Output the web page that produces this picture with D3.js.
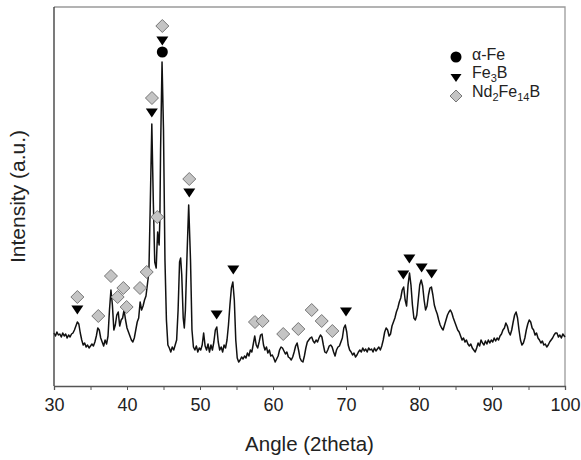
<!DOCTYPE html>
<html>
<head>
<meta charset="utf-8">
<script src="https://cdn.jsdelivr.net/npm/d3@7"></script>
<style>
  body { margin: 0; background: #fff; }
  svg { display: block; font-family: "Liberation Sans", Arial, sans-serif; }
</style>
</head>
<body>
<div id="vis"></div>
<script>
const FRAME_WIDTH = 581;
const FRAME_HEIGHT = 460;
const MARGINS = {left: 54, right: 16, top: 7, bottom: 74};

// diffraction pattern, angle (2theta) and intensity (a.u.)
const angles = [30.0,30.2,30.4,30.6,30.8,31.0,31.2,31.4,31.6,31.8,32.0,32.2,32.4,32.6,32.8,33.0,33.2,33.4,33.6,33.8,
  34.0,34.2,34.4,34.6,34.8,35.0,35.2,35.4,35.6,35.8,36.0,36.2,36.4,36.6,36.8,37.0,37.2,37.4,37.6,37.8,
  38.0,38.2,38.4,38.6,38.8,39.0,39.2,39.4,39.6,39.8,40.0,40.2,40.4,40.6,40.8,41.0,41.2,41.4,41.6,41.8,
  42.0,42.2,42.4,42.6,42.8,43.0,43.2,43.4,43.6,43.8,44.0,44.1,44.2,44.3,44.4,44.5,44.6,44.8,45.0,45.2,
  45.4,45.6,45.8,46.0,46.2,46.4,46.6,46.8,47.0,47.2,47.35,47.5,47.7,47.85,48.0,48.2,48.45,48.7,48.9,49.1,
  49.3,49.5,49.7,49.9,50.1,50.3,50.5,50.7,50.9,51.1,51.3,51.5,51.7,51.9,52.1,52.3,52.5,52.7,52.9,53.1,
  53.3,53.5,53.7,53.9,54.1,54.3,54.5,54.7,54.9,55.1,55.3,55.5,55.7,55.9,56.1,56.3,56.5,56.7,56.9,57.1,
  57.3,57.5,57.7,57.9,58.1,58.3,58.5,58.7,58.9,59.1,59.3,59.5,59.7,59.9,60.1,60.3,60.5,60.7,60.9,61.1,
  61.3,61.5,61.7,61.9,62.1,62.3,62.5,62.7,62.9,63.1,63.3,63.5,63.7,63.9,64.1,64.3,64.5,64.7,64.9,65.1,
  65.3,65.5,65.7,65.9,66.1,66.3,66.5,66.7,66.9,67.1,67.3,67.5,67.7,67.9,68.1,68.3,68.5,68.7,68.9,69.1,
  69.3,69.5,69.7,69.9,70.1,70.3,70.5,70.7,70.9,71.1,71.3,71.5,71.7,71.9,72.1,72.3,72.5,72.7,72.9,73.1,
  73.3,73.5,73.7,73.9,74.1,74.3,74.5,74.7,74.9,75.1,75.3,75.5,75.7,75.9,76.1,76.3,76.5,76.7,76.9,77.1,
  77.3,77.5,77.7,77.9,78.1,78.3,78.5,78.7,78.9,79.1,79.3,79.5,79.7,79.9,80.1,80.3,80.5,80.7,80.9,81.1,
  81.3,81.5,81.7,81.9,82.1,82.3,82.5,82.7,82.9,83.1,83.3,83.5,83.7,83.9,84.1,84.3,84.5,84.7,84.9,85.1,
  85.3,85.5,85.7,85.9,86.1,86.3,86.5,86.7,86.9,87.1,87.3,87.5,87.7,87.9,88.1,88.3,88.5,88.7,88.9,89.1,
  89.3,89.5,89.7,89.9,90.1,90.3,90.5,90.7,90.9,91.1,91.3,91.5,91.7,91.9,92.1,92.3,92.5,92.7,92.9,93.1,
  93.3,93.5,93.7,93.9,94.1,94.3,94.5,94.7,94.9,95.1,95.3,95.5,95.7,95.9,96.1,96.3,96.5,96.7,96.9,97.1,
  97.3,97.5,97.7,97.9,98.1,98.3,98.5,98.7,98.9,99.1,99.3,99.5,99.7,99.9,100.0];
const intensity = [53,50,54,51,52,49,53,50,52,48,51,49,52,53,56,60,64,62,53,46,
  41,43,39,41,38,40,42,40,44,50,58,56,48,44,40,46,42,50,76,96,
  81,56,61,71,74,60,66,68,76,66,58,54,50,46,44,48,56,64,68,84,
  76,80,86,90,102,114,186,262,186,124,118,138,154,146,141,166,236,324,256,126,
  66,41,38,34,39,36,41,46,76,124,128,111,68,58,76,126,181,126,56,39,
  36,40,34,38,36,41,53,40,36,42,34,41,36,44,56,59,44,36,39,34,
  41,38,46,61,81,98,104,86,46,28,24,26,29,27,30,28,33,30,36,34,
  42,50,41,38,44,51,52,41,36,39,33,36,30,31,28,24,27,30,36,39,
  38,35,32,34,29,28,26,29,34,40,43,36,28,25,24,30,38,44,46,48,
  49,45,43,46,44,48,51,49,41,34,33,36,40,41,39,34,30,36,39,40,
  44,48,58,61,54,41,36,34,31,33,29,31,34,36,34,38,35,37,34,38,
  36,37,34,38,35,37,39,36,40,46,54,58,56,50,52,60,64,68,74,78,
  84,88,96,99,86,80,101,113,101,81,68,66,71,86,101,106,100,86,76,80,
  91,98,99,91,81,76,72,66,61,58,56,61,66,71,74,76,73,68,64,60,
  56,54,50,46,48,44,46,42,40,42,38,36,34,38,43,40,46,43,41,45,
  42,46,43,46,44,48,45,48,46,50,52,56,58,63,60,54,51,56,64,71,
  74,68,56,46,41,43,48,56,62,66,64,58,56,51,53,48,46,43,45,41,
  42,39,41,44,46,48,51,53,53,49,51,48,52,50,49];

// phase markers
const alphaFeAngles = [44.84];
const alphaFeLevels = [334];
const fe3bAngles = [33.2, 43.4, 44.84, 48.53, 52.28, 54.56, 70.0, 77.85, 78.68, 80.36, 81.73];
const fe3bLevels = [76, 273, 345, 193, 71, 116, 74, 111, 127, 118, 112];
const ndAngles = [33.2, 36.07, 37.8, 38.72, 39.5, 39.95, 41.78, 42.7, 43.42, 44.15, 44.84, 48.53,
  57.53, 58.58, 61.4, 63.47, 65.3, 66.67, 68.13];
const ndLevels = [89, 70, 110, 89, 98, 79, 98, 114, 288, 169, 360, 207, 64, 65, 52, 57, 76, 65, 55];

const xTicks = [30, 35, 40, 45, 50, 55, 60, 65, 70, 75, 80, 85, 90, 95, 100];
const xLabels = [30, 40, 50, 60, 70, 80, 90, 100];

const VIS_WIDTH = FRAME_WIDTH - MARGINS.left - MARGINS.right;
const VIS_HEIGHT = FRAME_HEIGHT - MARGINS.top - MARGINS.bottom;

const svg = d3.select("#vis")
  .append("svg")
    .attr("width", FRAME_WIDTH)
    .attr("height", FRAME_HEIGHT);

const FRAME = svg.append("g")
  .attr("transform", "translate(" + MARGINS.left + "," + MARGINS.top + ")");

const X_SCALE = d3.scaleLinear().domain([30, 100]).range([0, VIS_WIDTH]);
const Y_SCALE = d3.scaleLinear().domain([0, 379]).range([VIS_HEIGHT, 0]);

// plot border (top + right in gray)
FRAME.append("path")
  .attr("d", "M0,0H" + VIS_WIDTH + "V" + VIS_HEIGHT)
  .attr("fill", "none")
  .attr("stroke", "#9a9a9a")
  .attr("stroke-width", 1.3);

// pattern
const pts = angles.map((a, i) => [a, intensity[i]]);
const line = d3.line()
  .x(d => X_SCALE(d[0]))
  .y(d => Y_SCALE(d[1]));

FRAME.append("path")
  .datum(pts)
  .attr("d", line)
  .attr("fill", "none")
  .attr("stroke", "#111")
  .attr("stroke-width", 1.5)
  .attr("stroke-linejoin", "round");

// x axis
const xAxis = FRAME.append("g")
  .attr("transform", "translate(0," + VIS_HEIGHT + ")")
  .call(d3.axisBottom(X_SCALE).tickValues(xTicks).tickSize(4)
    .tickFormat(d => xLabels.includes(d) ? d : ""));
xAxis.select(".domain").attr("stroke", "#555").attr("stroke-width", 1.3);
xAxis.selectAll(".tick line").attr("stroke", "#555");
xAxis.selectAll(".tick text")
  .attr("font-size", "18px")
  .attr("font-family", "Liberation Sans, Arial, sans-serif")
  .attr("fill", "#222")
  .attr("dy", "0.95em")
  .attr("y", 8);

// y axis line only
FRAME.append("line")
  .attr("x1", 0).attr("x2", 0)
  .attr("y1", 0).attr("y2", VIS_HEIGHT)
  .attr("stroke", "#333")
  .attr("stroke-width", 1.3);

// titles
svg.append("text")
  .attr("x", MARGINS.left + VIS_WIDTH / 2)
  .attr("y", 451)
  .attr("text-anchor", "middle")
  .attr("font-size", "20.5px")
  .attr("fill", "#222")
  .text("Angle (2theta)");

svg.append("text")
  .attr("transform", "translate(25," + (MARGINS.top + VIS_HEIGHT / 2) + ") rotate(-90)")
  .attr("text-anchor", "middle")
  .attr("font-size", "21px")
  .attr("fill", "#222")
  .text("Intensity (a.u.)");

// marker shapes
const triPath = "M-6,-4.5L6,-4.5L0,4.5Z";
const diaPath = "M0,-6.5L6.5,0L0,6.5L-6.5,0Z";

FRAME.selectAll(".nd")
  .data(ndAngles.map((a, i) => [a, ndLevels[i]]))
  .enter().append("path")
    .attr("class", "nd")
    .attr("d", diaPath)
    .attr("transform", d => "translate(" + X_SCALE(d[0]) + "," + Y_SCALE(d[1]) + ")")
    .attr("fill", "#c4c4c4")
    .attr("stroke", "#777")
    .attr("stroke-width", 1);

FRAME.selectAll(".fe3b")
  .data(fe3bAngles.map((a, i) => [a, fe3bLevels[i]]))
  .enter().append("path")
    .attr("class", "fe3b")
    .attr("d", triPath)
    .attr("transform", d => "translate(" + X_SCALE(d[0]) + "," + Y_SCALE(d[1]) + ")")
    .attr("fill", "#000");

FRAME.selectAll(".afe")
  .data(alphaFeAngles.map((a, i) => [a, alphaFeLevels[i]]))
  .enter().append("circle")
    .attr("class", "afe")
    .attr("cx", d => X_SCALE(d[0]))
    .attr("cy", d => Y_SCALE(d[1]))
    .attr("r", 5.5)
    .attr("fill", "#000");

// legend
const LEG = svg.append("g").attr("transform", "translate(456,0)");
LEG.append("circle").attr("cx", 0).attr("cy", 57).attr("r", 5.5).attr("fill", "#000");
LEG.append("path").attr("d", "M-5.5,-4L5.5,-4L0,4Z")
  .attr("transform", "translate(0,78)").attr("fill", "#000");
LEG.append("path").attr("d", "M0,-6L6,0L0,6L-6,0Z")
  .attr("transform", "translate(0,96)")
  .attr("fill", "#c4c4c4").attr("stroke", "#777");

const legText = LEG.append("g").attr("font-size", "16px").attr("fill", "#222");
legText.append("text").attr("x", 16).attr("y", 60).text("\u03b1-Fe");

const t2 = legText.append("text").attr("x", 16).attr("y", 78);
t2.append("tspan").text("Fe");
t2.append("tspan").attr("font-size", "11px").attr("dy", 4).text("3");
t2.append("tspan").attr("dy", -4).text("B");

const t3 = legText.append("text").attr("x", 16).attr("y", 97);
t3.append("tspan").text("Nd");
t3.append("tspan").attr("font-size", "11px").attr("dy", 4).text("2");
t3.append("tspan").attr("dy", -4).text("Fe");
t3.append("tspan").attr("font-size", "11px").attr("dy", 4).text("14");
t3.append("tspan").attr("dy", -4).text("B");
</script>
</body>
</html>
